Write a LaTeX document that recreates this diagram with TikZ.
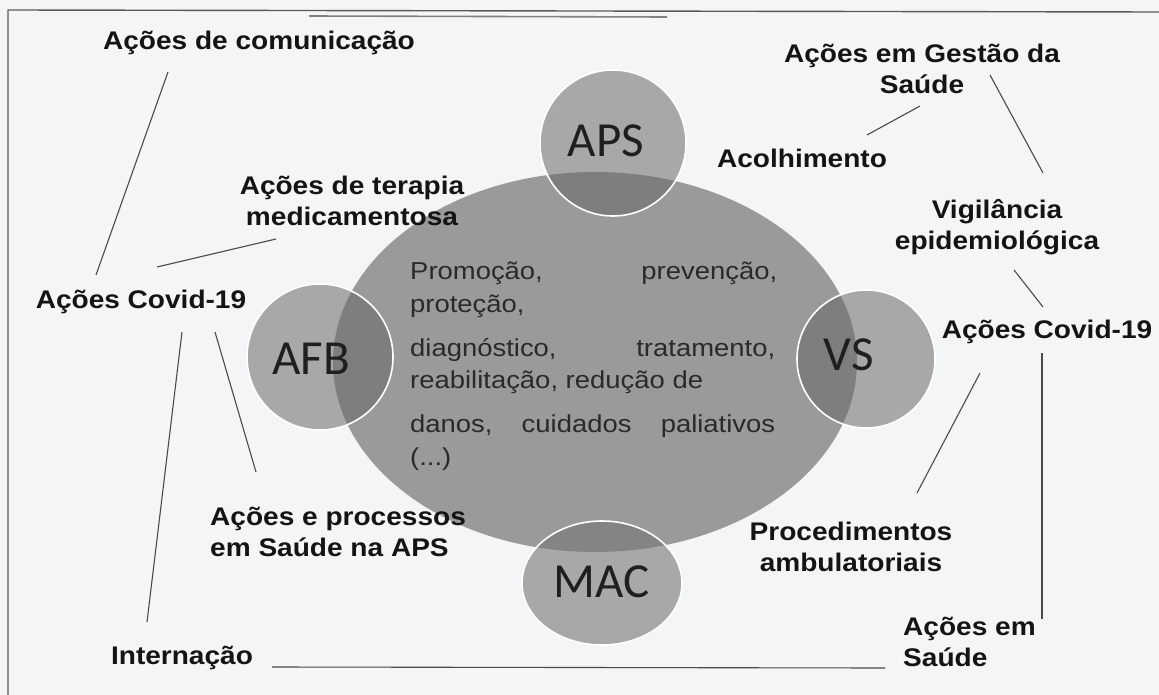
\documentclass[tikz,border=0pt]{standalone}
\usepackage{fontspec}
\setmainfont{Liberation Sans}
\newfontfamily\labfont{Liberation Sans}[FakeStretch=1.1]
\newfontfamily\bodyfont{Liberation Sans}[FakeStretch=1.12]
\newfontfamily\calfont{Carlito}
\usetikzlibrary{shapes.geometric}
\definecolor{bg}{HTML}{F4F5F7}
\definecolor{ellc}{HTML}{9A9A9A}
\definecolor{circc}{HTML}{A8A8A8}
\definecolor{ovc}{HTML}{7E7E7E}
\definecolor{linec}{HTML}{4A4A4A}
\definecolor{framec}{HTML}{5A5A5A}
\definecolor{txt}{HTML}{141414}
\definecolor{bodytxt}{HTML}{2A2A2A}
\begin{document}
\begin{tikzpicture}[x=1pt,y=-1pt,
  lab/.style={font={\labfont\bfseries\fontsize{25.5pt}{31pt}\selectfont}, text=txt, inner sep=0pt, align=center},
  body/.style={font={\bodyfont\fontsize{24.5pt}{30pt}\selectfont}, text=bodytxt, inner sep=0pt, anchor=base west},
  ctxt/.style={font={\calfont\fontsize{49pt}{52pt}\selectfont}, text=black!88, inner sep=0pt},
  circ/.style={circle, fill=circc, inner sep=0pt},
  outl/.style={draw=white, line width=1.6pt},
  conn/.style={draw=linec, line width=1.1pt},
  framel/.style={draw=framec, line width=1.4pt}]
\useasboundingbox (0,0) rectangle (1159,695);
\fill[bg] (0,0) rectangle (1159,695);
% frame
\coordinate (fa) at (8,695);
\coordinate (fb) at (8,10);
\coordinate (fc) at (1159,12);
\draw[framel] (fa) -- (fb) -- (fc);
\coordinate (ta) at (309,16);
\coordinate (tb) at (667,17);
\draw[draw=gray, line width=1.6pt] (ta) -- (tb);
% main ellipse
\node[ellipse, fill=ellc, minimum width=524pt, minimum height=380pt, inner sep=0pt] (main) at (595,362) {};
% circles
\node[circ, minimum size=146pt] (aps) at (613,143) {};
\node[circ, minimum size=146pt] (afb) at (320,357) {};
\node[circ, minimum size=138pt] (vs) at (866,359) {};
\node[ellipse, fill=circc, inner sep=0pt, minimum width=160pt, minimum height=124pt] (mac) at (602,583) {};
\begin{scope}
  \clip (main.center) ellipse [x radius=262pt, y radius=190pt];
  \fill[ovc] (aps.center) circle [radius=73pt];
  \fill[ovc] (afb.center) circle [radius=73pt];
  \fill[ovc] (vs.center) circle [radius=69pt];
  \fill[ovc!85!circc] (mac.center) ellipse [x radius=80pt, y radius=62pt];
\end{scope}
\draw[outl] (aps.center) circle [radius=73pt];
\draw[outl] (afb.center) circle [radius=73pt];
\draw[outl] (vs.center) circle [radius=69pt];
\draw[outl] (mac.center) ellipse [x radius=80pt, y radius=62pt];
% circle texts
\node[ctxt] (apsT) at (606,141) {APS};
\node[ctxt] (afbT) at (311,359) {AFB};
\node[ctxt] (vsT) at (849,355) {VS};
\node[ctxt] (macT) at (602,582) {MAC};
% body text
\node[body] (b1) at (410,279) {\hbox to 367pt{Promoção,\hfill prevenção,}};
\node[body] (b2) at (410,312) {proteção,};
\node[body] (b3) at (410,356) {\hbox to 365pt{diagnóstico,\hfill tratamento,}};
\node[body] (b4) at (410,388) {reabilitação, redução de};
\node[body] (b5) at (410,432) {\hbox to 365pt{danos,\hfill cuidados\hfill paliativos}};
\node[body] (b6) at (410,465) {(...)};
% labels
\node[lab] (comm) at (259,43) {Ações de comunicação};
\node[lab] (terap) at (352,201) {Ações de terapia\\medicamentosa};
\node[lab] (covL) at (141,302) {Ações Covid-19};
\node[lab, align=left, anchor=west] (proc) at (210,532) {Ações e processos\\em Saúde na APS};
\node[lab] (intern) at (182,658) {Internação};
\node[lab, align=left, anchor=west] (asaude) at (903,642) {Ações em\\Saúde};
\node[lab] (ambul) at (851,547) {Procedimentos\\ambulatoriais};
\node[lab] (covR) at (1047,332) {Ações Covid-19};
\node[lab] (vigil) at (997,227) {Vigilância\\epidemiológica};
\node[lab] (gest) at (922,69) {Ações em Gestão da\\Saúde};
\node[lab] (acolh) at (802,158) {Acolhimento};
% connector ends
\coordinate (c1a) at (168,72);   \coordinate (c1b) at (96,275);
\coordinate (c2a) at (276,239);  \coordinate (c2b) at (157,267);
\coordinate (c3a) at (182,332);  \coordinate (c3b) at (147,622);
\coordinate (c4a) at (215,332);  \coordinate (c4b) at (256,472);
\coordinate (c5a) at (272,667);  \coordinate (c5b) at (885,668);
\coordinate (c6a) at (1042,353); \coordinate (c6b) at (1042,619);
\coordinate (c7a) at (980,373);  \coordinate (c7b) at (917,493);
\coordinate (c8a) at (1014,270); \coordinate (c8b) at (1043,307);
\coordinate (c9a) at (990,75);   \coordinate (c9b) at (1043,173);
\coordinate (c10a) at (920,106); \coordinate (c10b) at (867,135);
\draw[conn] (c1a) -- (c1b);
\draw[conn] (c2a) -- (c2b);
\draw[conn] (c3a) -- (c3b);
\draw[conn] (c4a) -- (c4b);
\draw[conn] (c5a) -- (c5b);
\draw[conn] (c6a) -- (c6b);
\draw[conn] (c7a) -- (c7b);
\draw[conn] (c8a) -- (c8b);
\draw[conn] (c9a) -- (c9b);
\draw[conn] (c10a) -- (c10b);
\end{tikzpicture}
\end{document}
